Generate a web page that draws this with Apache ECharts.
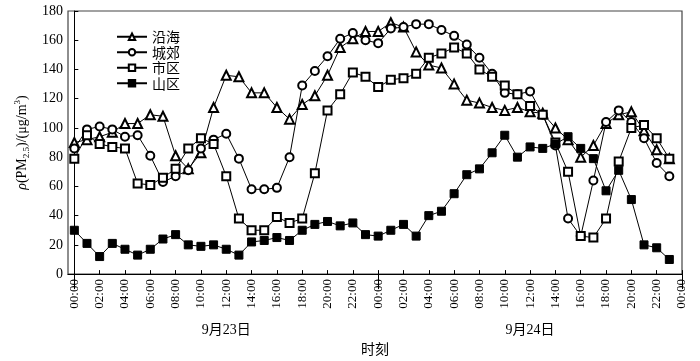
<!DOCTYPE html>
<html>
<head>
<meta charset="utf-8">
<script src="https://cdn.jsdelivr.net/npm/echarts@6/dist/echarts.min.js"></script>
<style>html,body{margin:0;padding:0;background:#fff}#c{width:700px;height:361px}</style>
</head>
<body>
<div id="c"></div>
<script>
// hour index 0..47 (00:00 9月23日 → 23:00 9月24日)
var hours = [0,1,2,3,4,5,6,7,8,9,10,11,12,13,14,15,16,17,18,19,20,21,22,23,
             24,25,26,27,28,29,30,31,32,33,34,35,36,37,38,39,40,41,42,43,44,45,46,47];
var seriesNames = ['沿海','城郊','市区','山区'];
var coastal = [90,92,94,97,103,103,109,108,81,72,83,114,136,135,124,124,114,106,116,122,136,155,161,166,
               166,172,169,152,143,141,130,119,117,114,112,114,111,110,100,92,80,88,103,109,111,98,85,79];
var suburban = [86,99,101,99,94,95,81,63,67,71,86,92,96,79,58,58,59,80,129,139,149,161,165,160,
                158,168,169,171,171,167,163,157,148,137,124,123,125,109,88,38,26,64,104,112,104,93,76,67];
var urban = [79,95,89,87,86,62,61,66,72,86,93,89,67,38,30,30,39,35,38,69,112,123,138,135,
             128,133,134,137,148,151,155,151,140,135,129,123,115,109,90,70,26,25,38,77,100,102,93,79];
var mountain = [30,21,12,21,17,13,17,24,27,20,19,20,17,13,22,23,25,23,30,34,36,33,35,27,
                26,30,34,26,40,43,55,68,72,83,95,80,87,86,89,94,86,79,57,71,51,20,18,10];
var timeTicks = [0,2,4,6,8,10,12,14,16,18,20,22,24,26,28,30,32,34,36,38,40,42,44,46,48];
var timeLabels = ['00:00','02:00','04:00','06:00','08:00','10:00','12:00','14:00','16:00','18:00','20:00','22:00',
                  '00:00','02:00','04:00','06:00','08:00','10:00','12:00','14:00','16:00','18:00','20:00','22:00','00:00'];
var dayBounds = [0,24,48];
var dayCenters = [12,36];
var dayLabels = ['9月23日','9月24日'];

function pairs(arr){ return arr.map(function(v,i){ return [hours[i], v]; }); }

var serif = 'Liberation Serif, Noto Sans CJK SC, serif';
var cjk = 'Liberation Serif, Noto Sans CJK SC, sans-serif';
var symbols = ['emptyTriangle','emptyCircle','emptyRect','rect'];
var sizes = [9,8,8,8];
var dataSets = [coastal, suburban, urban, mountain];

var chart = echarts.init(document.getElementById('c'), null, {renderer:'canvas'});
chart.setOption({
  animation:false,
  backgroundColor:'#fff',
  grid:{left:68, right:18, top:11, bottom:79, show:true, borderColor:'#444', borderWidth:1.2, backgroundColor:'transparent'},
  legend:{
    data:seriesNames, orient:'vertical', left:111, top:24, itemWidth:30, itemHeight:8, itemGap:0,
    textStyle:{fontFamily:'Noto Sans CJK SC', fontSize:14, color:'#000', lineHeight:15.5},
    inactiveColor:'#000'
  },
  xAxis:[{
    type:'value', min:-0.5, max:48, position:'bottom',
    axisLine:{show:true, onZero:false, lineStyle:{color:'#000', width:1}},
    axisTick:{show:true, inside:true, length:4, customValues:timeTicks, lineStyle:{color:'#000'}},
    axisLabel:{show:true, rotate:90, margin:5, customValues:timeTicks, color:'#000',
      fontFamily:serif, fontSize:13,
      formatter:function(v){ var i = timeTicks.indexOf(Math.round(v)); return i>=0 ? timeLabels[i] : ''; }},
    splitLine:{show:false}
  },{
    type:'value', min:-0.5, max:48, position:'bottom', offset:47,
    axisLine:{show:false},
    axisTick:{show:true, inside:false, length:15, customValues:dayBounds, lineStyle:{color:'#000', width:1}},
    axisLabel:{show:true, margin:2, customValues:dayCenters, color:'#000', fontFamily:cjk, fontSize:14,
      formatter:function(v){ var i = dayCenters.indexOf(Math.round(v)); return i>=0 ? dayLabels[i] : ''; }},
    splitLine:{show:false},
    name:'时刻', nameLocation:'middle', nameGap:19,
    nameTextStyle:{fontFamily:'Noto Sans CJK SC', fontSize:14, color:'#000'}
  }],
  yAxis:{
    type:'value', min:0, max:180, interval:20,
    axisLine:{show:true, lineStyle:{color:'#000', width:1}},
    axisTick:{show:true, inside:true, length:4, lineStyle:{color:'#000'}},
    axisLabel:{color:'#000', fontFamily:serif, fontSize:14, margin:5},
    splitLine:{show:false},
    name:'{i|ρ}{n|(PM}{s|2.5}{n|)/(μg/m}{p|3}{n|)}',
    nameLocation:'middle', nameGap:33, nameRotate:90,
    nameTextStyle:{color:'#000', fontFamily:serif, fontSize:14,
      rich:{
        i:{fontFamily:serif, fontStyle:'italic', fontSize:14, color:'#000', lineHeight:18},
        n:{fontFamily:serif, fontSize:14, color:'#000', lineHeight:18},
        s:{fontFamily:serif, fontSize:9, color:'#000', verticalAlign:'bottom', lineHeight:9},
        p:{fontFamily:serif, fontSize:9, color:'#000', verticalAlign:'top', lineHeight:9}
      }}
  },
  series: seriesNames.map(function(name, k){
    return {
      name:name, type:'line', xAxisIndex:0, data:pairs(dataSets[k]),
      symbol:symbols[k], symbolSize:sizes[k], showAllSymbol:true,
      lineStyle:{color:'#000', width:1},
      itemStyle:{color:'#000', borderColor:'#000', borderWidth:1},
      emphasis:{disabled:true}, z:2+k
    };
  })
});
</script>
</body>
</html>
